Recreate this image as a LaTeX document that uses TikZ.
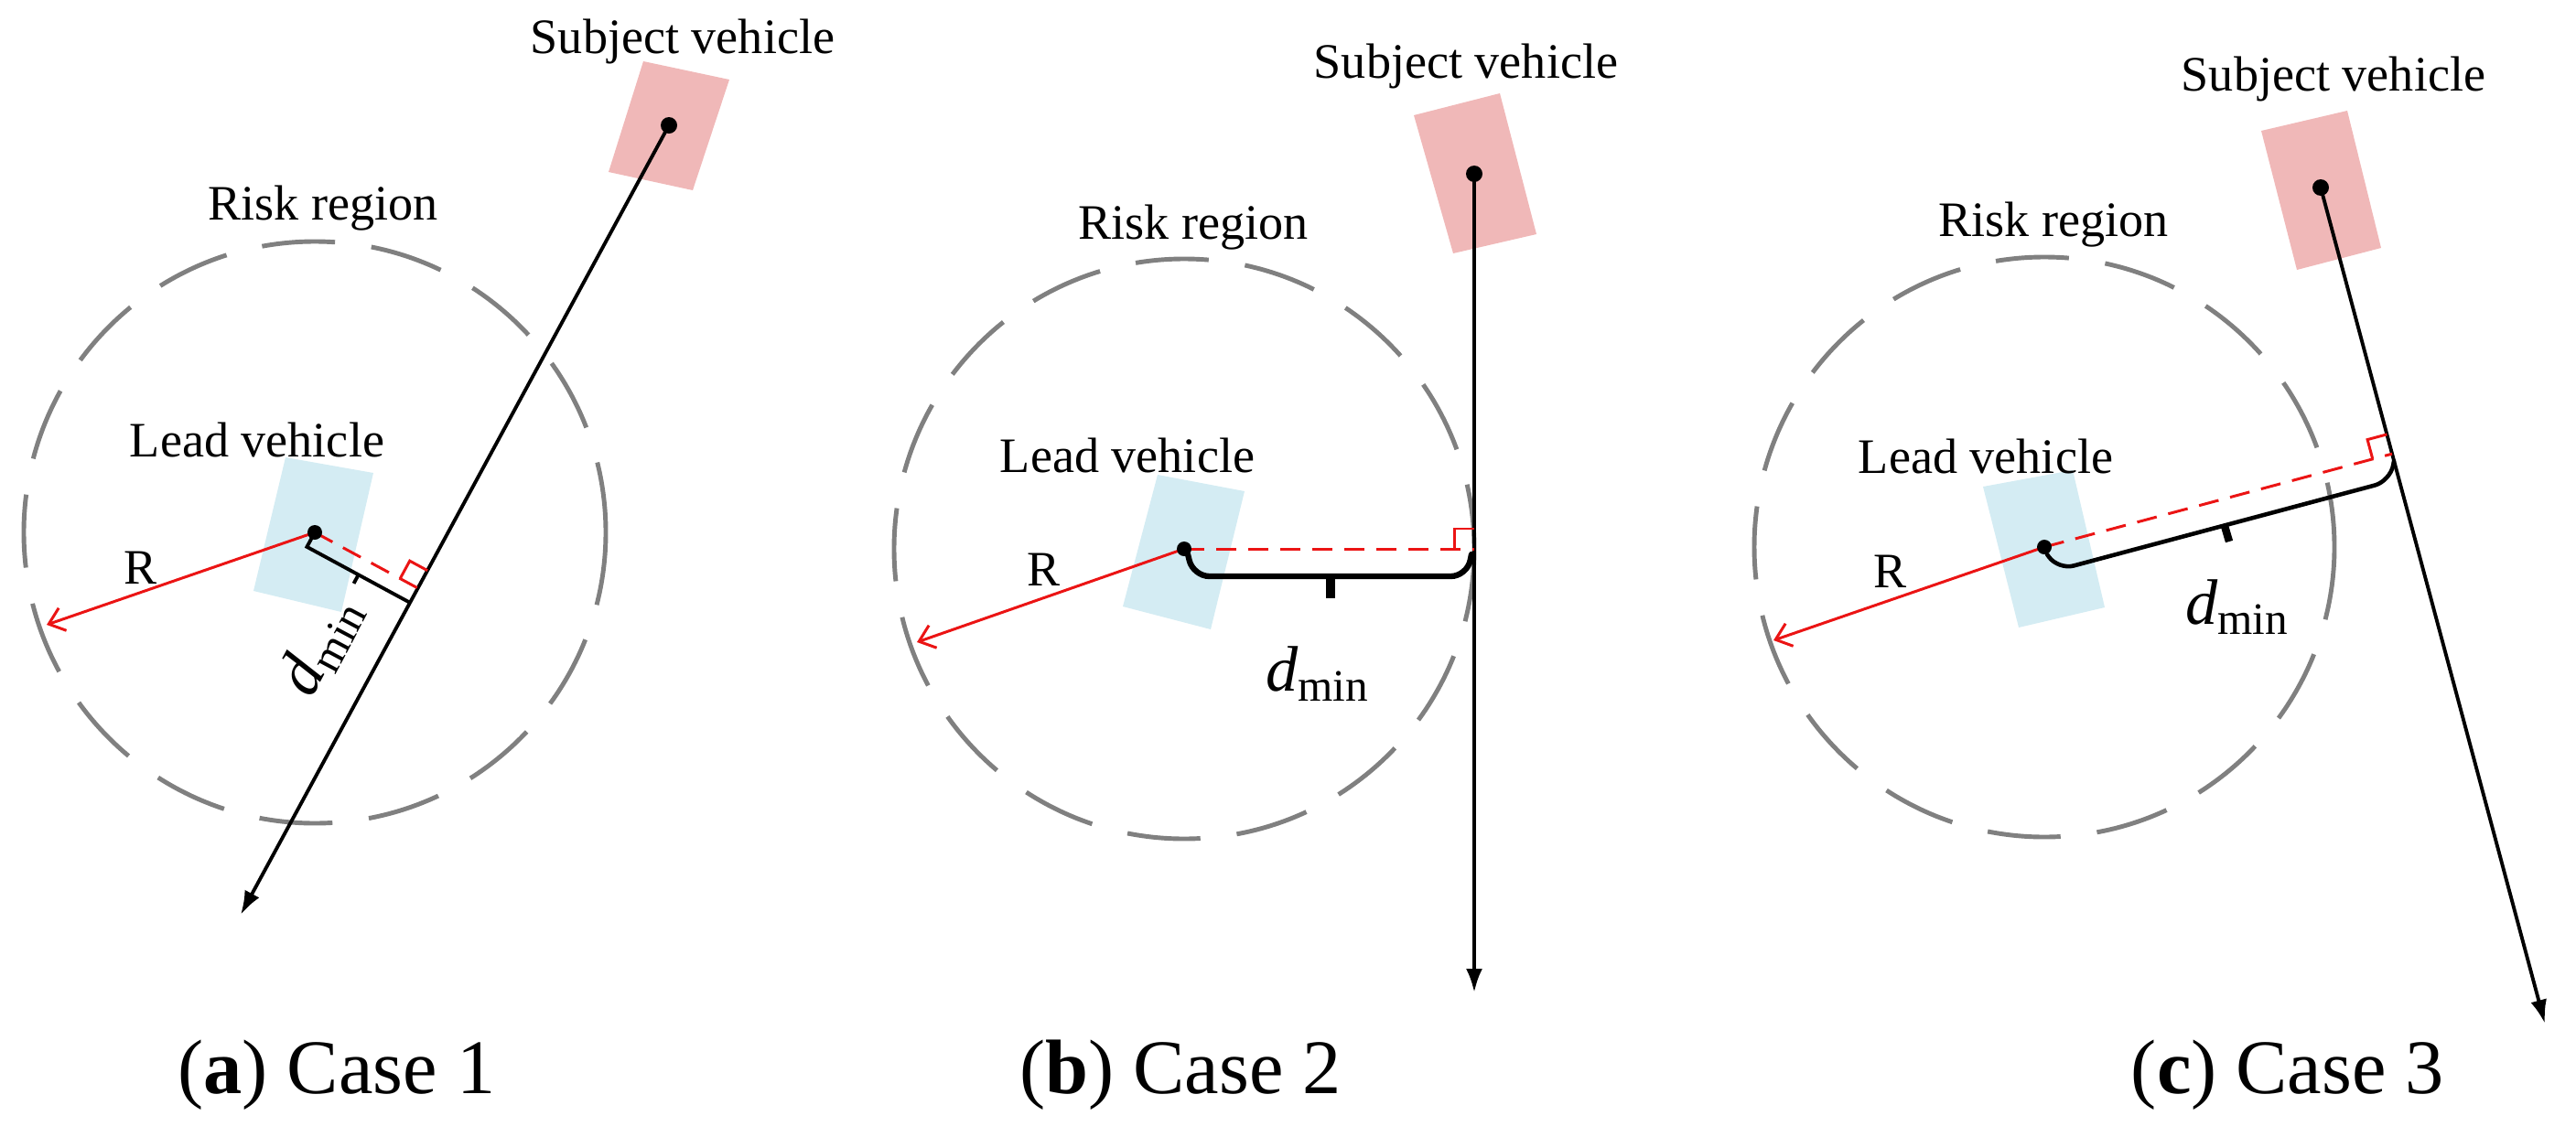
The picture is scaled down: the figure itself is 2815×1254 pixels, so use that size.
\documentclass[tikz,border=0pt]{standalone}
\usepackage{fontspec}
\setmainfont{Liberation Serif}
\usetikzlibrary{arrows.meta,calc}
\definecolor{leadc}{RGB}{212,236,243}
\definecolor{subjc}{RGB}{240,184,184}
\definecolor{riskc}{RGB}{128,128,128}
\definecolor{redc}{RGB}{235,20,20}
\begin{document}
\begin{tikzpicture}[x=0.01cm,y=-0.01cm,
  risk/.style={draw=riskc,line width=1.4pt,dash pattern=on 8mm off 4mm},
  traj/.style={draw=black,line width=1.1pt,-{Latex[length=2.6mm,width=1.8mm]}},
  radius/.style={draw=redc,line width=0.85pt,-{Straight Barb[length=1.6mm,width=2.6mm]}},
  perp/.style={draw=redc,line width=0.85pt,dash pattern=on 2.2mm off 1.3mm},
  sq/.style={draw=redc,line width=0.85pt},
  lbl/.style={font=\rmfamily\fontsize{15.4}{18}\selectfont,inner sep=0pt},
  captxt/.style={font=\rmfamily\fontsize{24}{28}\selectfont,inner sep=0pt},
  dot/.style={fill=black},
  brk/.style={draw=black,line width=#1,rounded corners=5pt,line cap=round}]
\useasboundingbox (0,0) rectangle (2815,1254);
\newcommand{\rightangle}[4]{% F, L, S, name prefix
  \coordinate (#4a) at ($(#1)!0.22cm!(#2)$);
  \coordinate (#4b) at ($(#1)!0.22cm!(#3)$);
  \draw[sq] (#4a) -- ($(#4a)+(#4b)-(#1)$) -- (#4b);}
% ---------- panel a ----------
\coordinate (La) at (344,582); \coordinate (Sa) at (731,137); \coordinate (Ea) at (263,1000);
\fill[leadc] (312,500)--(408,517)--(373,669)--(277,646)--cycle;
\fill[subjc] (703,67)--(797,87)--(757,208)--(665,188)--cycle;
\draw[risk] (La) circle (318);
\draw[traj] (Sa) -- (Ea);
\coordinate (Fa) at ($(Sa)!(La)!(Ea)$);
\draw[radius] (La) -- (51,683);
\draw[perp] (La) -- (Fa);
\rightangle{Fa}{La}{Sa}{ra}
\coordinate (Fa2) at ($(Fa)!0.18cm!(Ea)$);
\coordinate (La2) at ($(La)+(Fa2)-(Fa)$);
\coordinate (Ma) at ($(La)!0.5!(Fa)$); \coordinate (Ma2) at ($(La2)!0.5!(Fa2)$);
\draw[line width=1.1pt] (La) -- (La2) -- (Fa2);
\draw[line width=1.1pt] (Ma2) -- ($(Ma)!1.6!(Ma2)$);
\fill[dot] (La) circle (8); \fill[dot] (Sa) circle (9);
\node[lbl] (ta1) at (746,45) {Subject vehicle};
\node[lbl] (ta2) at (353,228) {Risk region};
\node[lbl] (ta3) at (281,481) {Lead vehicle};
\node[lbl] (ta4) at (154,621) {R};
\node[lbl,rotate=62] (ta5) at (350,705) {\fontsize{20}{22}\selectfont\textit{d}\textsubscript{min}};
\node[captxt] (ca) at (368,1175) {(\textbf{a}) Case 1};
% ---------- panel b ----------
\coordinate (Lb) at (1294,600); \coordinate (Sb) at (1611,190); \coordinate (Eb) at (1611,1085);
\fill[leadc] (1265,519)--(1360,537)--(1323,688)--(1227,663)--cycle;
\fill[subjc] (1545,126)--(1639,102)--(1679,256)--(1588,277)--cycle;
\draw[risk] (Lb) circle (317);
\draw[traj] (Sb) -- (Eb);
\coordinate (Fb) at ($(Sb)!(Lb)!(Eb)$);
\draw[radius] (Lb) -- (1002,702);
\draw[perp] (Lb) -- (Fb);
\rightangle{Fb}{Lb}{Sb}{rb}
\draw[brk=1.8pt] (1298,606) -- (1304,630) -- (1603,630) -- (1608,606);
\draw[line width=3pt] (1454,630) -- (1454,654);
\fill[dot] (Lb) circle (8); \fill[dot] (Sb) circle (9);
\node[lbl] (tb1) at (1602,72) {Subject vehicle};
\node[lbl] (tb2) at (1304,249) {Risk region};
\node[lbl] (tb3) at (1232,498) {Lead vehicle};
\node[lbl] (tb4) at (1141,623) {R};
\node[lbl] (tb5) at (1440,737) {\fontsize{20}{22}\selectfont\textit{d}\textsubscript{min}};
\node[captxt] (cb) at (1290,1175) {(\textbf{b}) Case 2};
% ---------- panel c ----------
\coordinate (Lc) at (2234,598); \coordinate (Sc) at (2536,205); \coordinate (Ec) at (2781,1119);
\fill[leadc] (2167,532)--(2265,514)--(2300,664)--(2206,686)--cycle;
\fill[subjc] (2471,143)--(2565,121)--(2602,271)--(2510,295)--cycle;
\draw[risk] (Lc) circle (317);
\draw[traj] (Sc) -- (Ec);
\coordinate (Fc) at ($(Sc)!(Lc)!(Ec)$);
\draw[radius] (Lc) -- (1938,700);
\draw[perp] (Lc) -- (Fc);
\rightangle{Fc}{Lc}{Sc}{rc}
\draw[brk=1.3pt] (2237,606) -- (2249,623) -- (2612,526) -- (2616,504);
\draw[line width=2.4pt] (2431,575) -- (2436,592);
\fill[dot] (Lc) circle (8); \fill[dot] (Sc) circle (9);
\node[lbl] (tc1) at (2550,86) {Subject vehicle};
\node[lbl] (tc2) at (2244,246) {Risk region};
\node[lbl] (tc3) at (2170,499) {Lead vehicle};
\node[lbl] (tc4) at (2066,625) {R};
\node[lbl] (tc5) at (2445,664) {\fontsize{20}{22}\selectfont\textit{d}\textsubscript{min}};
\node[captxt] (cc) at (2500,1175) {(\textbf{c}) Case 3};
\end{tikzpicture}
\end{document}
